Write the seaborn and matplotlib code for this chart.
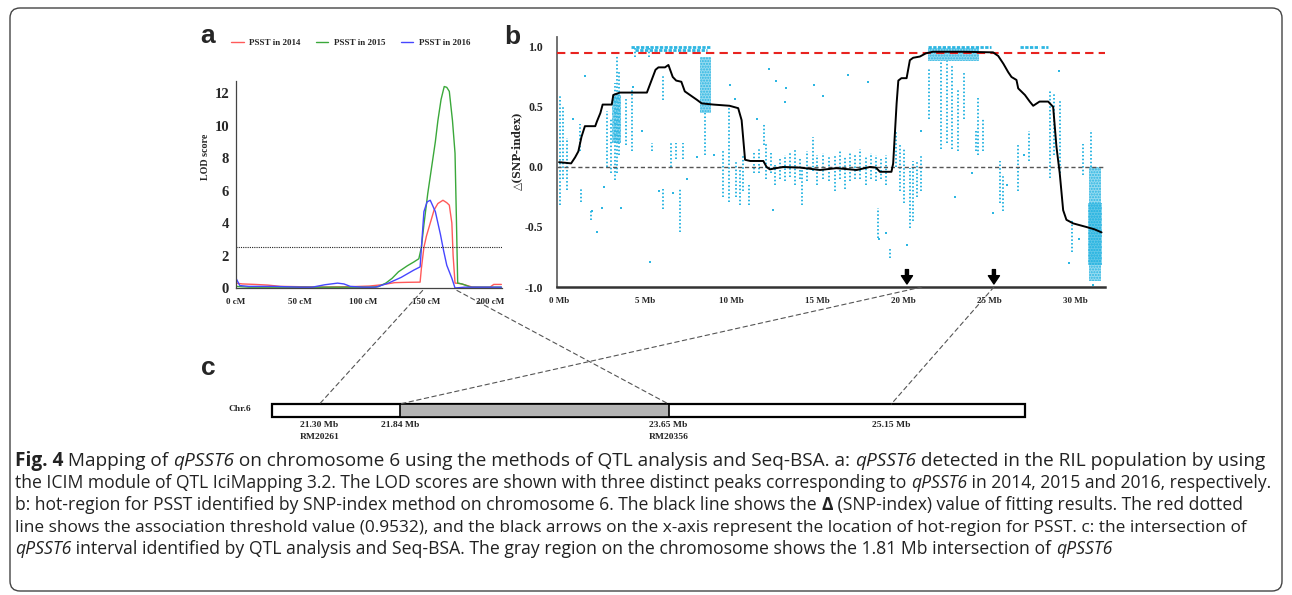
import matplotlib
matplotlib.use("Agg")
import matplotlib.pyplot as plt
import seaborn as sns
import numpy as np
import pandas as pd
from matplotlib.patches import ConnectionPatch, FancyBboxPatch
from matplotlib.transforms import IdentityTransform
from matplotlib.lines import Line2D

# ---------------- data: panel a (LOD curves) ----------------
cm_2014 = [0, 5, 15, 25, 35, 50, 70, 90, 105, 115, 125, 135, 145, 146, 148, 150, 153, 156, 159, 163,
           166, 168, 170, 171, 172.5, 176, 180, 186, 195, 200, 203, 209]
lod_2014 = [0.3, 0.25, 0.22, 0.18, 0.1, 0.08, 0.06, 0.08, 0.12, 0.2, 0.33, 0.35, 0.36, 1.2, 2.5, 3.2, 4.0, 4.8, 5.2, 5.4,
            5.25, 5.1, 4.0, 2.0, 0.3, 0.28, 0.2, 0.06, 0.05, 0.05, 0.22, 0.22]
cm_2015 = [0, 10, 30, 50, 70, 90, 105, 112, 118, 123, 128, 135, 140, 144, 146, 148, 151, 154, 157, 159,
           161.5, 164, 166, 168, 170.5, 172.5, 173.6, 174.6, 178, 185, 195, 209]
lod_2015 = [0.1, 0.05, 0.05, 0.05, 0.05, 0.05, 0.05, 0.08, 0.3, 0.6, 1.0, 1.37, 1.6, 1.8, 2.5, 3.9, 5.8, 7.4, 9.0, 10.3,
            11.6, 12.4, 12.35, 12.1, 10.3, 8.3, 4.2, 0.3, 0.25, 0.05, 0.05, 0.05]
cm_2016 = [0, 3, 10, 30, 50, 60, 70, 80, 85, 90, 100, 110, 120, 130, 140, 145, 146.5, 148, 150.5, 153,
           157, 161, 163.5, 166, 170, 172.5, 180, 200, 209]
lod_2016 = [0.6, 0.15, 0.1, 0.1, 0.05, 0.05, 0.2, 0.3, 0.25, 0.1, 0.05, 0.05, 0.3, 0.65, 1.1, 1.3, 3.0, 4.7, 5.3, 5.4,
            4.7, 3.3, 2.3, 1.4, 0.6, 0.0, 0.05, 0.05, 0.05]
lod_threshold = 2.5
series_names = ["PSST in 2014", "PSST in 2015", "PSST in 2016"]
series_colors = ["#ff5a5a", "#3aa83a", "#4646ff"]
cm_ticks = [0, 50, 100, 150, 200]
cm_tick_labels = ["0 cM", "50 cM", "100 cM", "150 cM", "200 cM"]
lod_ticks = [0, 2, 4, 6, 8, 10, 12]

# ---------------- data: panel b (delta SNP-index) ----------------
fit_mb = [0, 0.7, 0.93, 1.12, 1.3, 1.5, 2.1, 2.2, 2.4, 2.53, 3.06, 3.15, 3.54, 5.1, 5.6, 5.77, 6.15, 6.35, 6.6, 6.8,
          7.1, 7.3, 7.6, 8.0, 8.28, 8.96, 9.9, 10.4, 10.6, 10.8, 11.1, 11.86, 12.05, 12.24, 12.6, 13.0, 13.99, 15.15,
          16.1, 17.28, 18.05, 18.4, 18.63, 19.3, 19.4, 19.6, 19.7, 19.88, 20.18, 20.37, 20.56, 20.95, 21.3, 21.7,
          23.5, 25.2, 25.5, 25.8, 26.08, 26.27, 26.56, 26.66, 27.05, 27.33, 27.53, 27.9, 28.4, 28.69, 28.88, 29.07,
          29.27, 29.46, 29.85, 30.62, 31.1, 31.5]
fit_val = [0.04, 0.03, 0.08, 0.13, 0.25, 0.34, 0.34, 0.38, 0.45, 0.52, 0.52, 0.6, 0.62, 0.62, 0.81, 0.83, 0.83, 0.85,
           0.75, 0.72, 0.71, 0.63, 0.6, 0.56, 0.53, 0.52, 0.51, 0.49, 0.39, 0.06, 0.05, 0.05, 0.0, -0.02, -0.01, 0.0,
           -0.005, -0.025, -0.01, -0.025, 0.0, -0.005, -0.04, -0.04, 0.03, 0.53, 0.72, 0.74, 0.74, 0.89, 0.91, 0.92,
           0.947, 0.96, 0.96, 0.955, 0.925, 0.86, 0.79, 0.75, 0.725, 0.655, 0.6, 0.545, 0.51, 0.545, 0.545, 0.50,
           0.17, -0.05, -0.36, -0.44, -0.47, -0.50, -0.52, -0.545]
snp_threshold = 0.9532
# columns of SNP dots (position, lowest, highest)
streak_mb = [0.05, 0.2, 0.48, 1.2, 1.25, 1.86, 2.8, 3.0, 3.22, 3.35, 3.5, 3.9, 4.26, 4.4, 5.2, 5.4, 6.06, 6.06, 6.5,
             6.8, 7.0, 7.2, 8.5, 9.5, 9.85, 10.5, 11.0, 11.9, 12.54, 14.1, 14.76, 18.5, 19.2, 19.55, 20.4, 20.55,
             21.5, 22.2, 22.5, 22.8, 23.18, 23.5, 24.3, 24.2, 24.6, 25.6, 25.8, 26.66, 27.3, 28.5, 28.75, 29.1,
             30.4, 30.9, 29.8,
             10.3, 10.7, 11.3, 11.6, 12.0, 12.3, 12.8, 13.1, 13.4, 13.7, 14.0, 14.4, 15.0, 15.3, 15.7, 16.0, 16.3,
             16.6, 16.9, 17.2, 17.5, 17.8, 18.1, 18.4, 18.7, 19.0, 19.8, 20.0, 20.8, 21.0]
streak_lo = [-0.32, -0.10, -0.19, 0.13, -0.29, -0.44, 0.0, -0.05, -0.11, -0.05, 0.10, 0.18, 0.13, 0.92, 0.92, 0.13,
             0.56, -0.35, 0.0, 0.07, -0.54, 0.07, 0.10, -0.25, -0.29, -0.32, -0.32, 0.18, -0.15, -0.32, -0.03,
             -0.59, -0.76, 0.0, -0.51, -0.45, 0.40, 0.15, 0.20, 0.15, 0.13, 0.40, 0.10, 0.13, 0.13, -0.30, -0.37,
             -0.20, 0.05, -0.09, 0.10, -0.05, -0.07, 0.0, -0.71,
             -0.25, -0.2, -0.05, -0.05, -0.1, -0.05, -0.1, -0.12, -0.08, -0.15, -0.1, -0.12, -0.15, -0.1, -0.12,
             -0.2, -0.1, -0.18, -0.12, -0.1, -0.1, -0.15, -0.1, -0.12, -0.1, -0.15, -0.2, -0.3, -0.25, -0.2]
streak_hi = [0.60, 0.50, 0.24, 0.36, -0.18, -0.37, 0.47, 0.40, 0.70, 0.93, 0.80, 0.57, 0.65, 1.0, 1.0, 0.20,
             0.77, -0.18, 0.20, 0.20, -0.18, 0.20, 0.45, 0.15, 0.49, 0.0, -0.15, 0.36, 0.02, 0.0, 0.25,
             -0.34, -0.68, 0.30, -0.01, 0.05, 0.82, 0.88, 0.88, 0.85, 0.64, 0.80, 0.58, 0.30, 0.40, 0.05, -0.06,
             0.20, 0.30, 0.64, 0.62, 0.55, 0.19, 0.31, -0.44,
             0.05, 0.1, 0.13, 0.15, 0.2, 0.12, 0.08, 0.1, 0.12, 0.15, 0.08, 0.13, 0.1, 0.12, 0.08, 0.1, 0.13,
             0.08, 0.12, 0.1, 0.15, 0.08, 0.12, 0.1, 0.08, 0.1, 0.2, 0.15, 0.05, 0.1]
# dense clusters of SNP dots (start, end, lowest, highest)
blob_x0 = [3.10, 8.20, 30.70, 30.75, 21.40]
blob_x1 = [3.60, 8.85, 31.50, 31.45, 24.40]
blob_lo = [0.20, 0.45, -0.82, -0.95, 0.88]
blob_hi = [0.60, 0.92, -0.30, 0.00, 0.99]
# dotted rows of SNPs at the top (start, end, level)
band_x0 = [4.2, 4.4, 21.4, 26.75, 28.0]
band_x1 = [8.8, 8.6, 25.1, 27.85, 28.4]
band_y = [1.0, 0.975, 1.0, 1.0, 1.0]
# isolated SNP dots
iso_mb = [1.9, 2.2, 2.5, 3.6, 5.3, 4.3, 1.5, 0.8, 2.6, 4.8, 5.8, 6.6, 7.4, 9.9, 10.2, 12.2, 12.6, 13.2, 13.1, 14.8,
          15.3, 12.4, 11.5, 16.8, 17.95, 18.6, 19.0, 21.0, 24.0, 25.2, 26.0, 27.0, 29.0, 29.6, 30.2, 31.0, 23.0,
          20.2, 9.0, 8.0]
iso_val = [-0.37, -0.54, -0.34, -0.34, -0.79, 0.67, 0.76, 0.4, -0.17, 0.3, -0.2, -0.22, -0.1, 0.68, 0.57, 0.82,
           0.72, 0.66, 0.54, 0.68, 0.59, -0.36, 0.4, 0.77, 0.71, -0.6, -0.55, 0.3, -0.05, -0.38, -0.15, 0.1, 0.8,
           -0.8, -0.6, -0.98, -0.25, -0.65, 0.1, 0.08]
hot_arrows_mb = [20.2, 25.25]
mb_ticks = [0, 5, 10, 15, 20, 25, 30]
mb_tick_labels = ["0 Mb", "5 Mb", "10 Mb", "15 Mb", "20 Mb", "25 Mb", "30 Mb"]
snp_ticks = [1.0, 0.5, 0.0, -0.5, -1.0]
snp_tick_labels = ["1.0", "0.5", "0.0", "-0.5", "-1.0"]

# ---------------- data: panel c (chromosome) ----------------
chrom_start, chrom_end = 20.98, 26.05
overlap_start, overlap_end = 21.84, 23.65
mark_mb = [21.30, 21.84, 23.65, 25.15]
mark_labels = ["21.30 Mb", "21.84 Mb", "23.65 Mb", "25.15 Mb"]
marker_names = ["RM20261", "", "RM20356", ""]

# ---------------- caption (text segments: text, style) ----------------
caption_line1 = [("Fig. 4", "b"), (" Mapping of ", "n"), ("qPSST6", "i"),
                 (" on chromosome 6 using the methods of QTL analysis and Seq-BSA. a: ", "n"), ("qPSST6", "i"),
                 (" detected in the RIL population by using", "n")]
caption_line2 = [("the ICIM module of QTL IciMapping 3.2. The LOD scores are shown with three distinct peaks "
                  "corresponding to ", "n"), ("qPSST6", "i"), (" in 2014, 2015 and 2016, respectively.", "n")]
caption_line3 = [("b: hot-region for PSST identified by SNP-index method on chromosome 6. The black line shows the ",
                  "n"), ("Δ", "b"), (" (SNP-index) value of fitting results. The red dotted", "n")]
caption_line4 = [("line shows the association threshold value (0.9532), and the black arrows on the x-axis represent "
                  "the location of hot-region for PSST. c: the intersection of", "n")]
caption_line5 = [("qPSST6", "i"), (" interval identified by QTL analysis and Seq-BSA. The gray region on the "
                                   "chromosome shows the 1.81 Mb intersection of ", "n"), ("qPSST6", "i")]
caption_lines = [caption_line1, caption_line2, caption_line3, caption_line4, caption_line5]

# ---------------- styling ----------------
sns.set_style("white")
plt.rcParams["font.family"] = ["Liberation Serif", "DejaVu Serif"]

W, H = 1292, 595
fig = plt.figure(figsize=(W / 100, H / 100), dpi=100)
fig.patch.set_facecolor("white")


def fx(px):
    return px / W


def fy(py):
    return 1 - py / H


CYAN = "#2cb6e2"
SERIF = ["Liberation Serif", "DejaVu Serif"]

# ---------------- panel a ----------------
ax_a = fig.add_axes([fx(236), fy(288), (502 - 236) / W, (288 - 81) / H])
df_a = pd.concat([
    pd.DataFrame({"cM": cm_2014, "LOD": lod_2014, "series": series_names[0]}),
    pd.DataFrame({"cM": cm_2015, "LOD": lod_2015, "series": series_names[1]}),
    pd.DataFrame({"cM": cm_2016, "LOD": lod_2016, "series": series_names[2]}),
])
sns.lineplot(data=df_a, x="cM", y="LOD", hue="series", palette=dict(zip(series_names, series_colors)),
             estimator=None, sort=False, linewidth=1.0, ax=ax_a, legend=False)
ax_a.axhline(lod_threshold, color="#222222", lw=0.8, ls=(0, (1, 1)))
ax_a.set_xlim(0, 209.5)
ax_a.set_ylim(0, 12.74)
ax_a.set_xticks(cm_ticks)
ax_a.set_xticklabels(cm_tick_labels)
ax_a.set_yticks(lod_ticks)
ax_a.set_yticklabels([str(v) for v in lod_ticks])
ax_a.yaxis.set_minor_locator(matplotlib.ticker.MultipleLocator(0.5))
ax_a.xaxis.set_minor_locator(matplotlib.ticker.MultipleLocator(10))
ax_a.set_xlabel("")
ax_a.set_ylabel("LOD score", fontsize=7.2, fontweight="bold", family=SERIF, labelpad=3)
ax_a.yaxis.set_label_coords(-0.098, 0.633)
for s in ["top", "right"]:
    ax_a.spines[s].set_visible(False)
for s in ["left", "bottom"]:
    ax_a.spines[s].set_color("#444444")
    ax_a.spines[s].set_linewidth(0.9)
ax_a.tick_params(axis="both", which="both", direction="out", color="#444444", width=0.7)
ax_a.tick_params(axis="both", which="major", length=3)
ax_a.tick_params(axis="both", which="minor", length=1.5)
ax_a.tick_params(axis="x", labelsize=6.5, pad=4)
ax_a.tick_params(axis="y", labelsize=10.5, pad=2)
for lab in ax_a.get_xticklabels() + ax_a.get_yticklabels():
    lab.set_fontweight("bold")
handles = [Line2D([0], [0], color=c, lw=1.0) for c in series_colors]
leg = ax_a.legend(handles, series_names, ncol=3, loc="center left", frameon=False,
                  bbox_to_anchor=(fx(231), fy(43)), bbox_transform=fig.transFigure,
                  borderaxespad=0, borderpad=0, handlelength=1.4, handletextpad=0.6, columnspacing=1.7,
                  prop={"family": SERIF, "weight": "bold", "size": 6.5})

# ---------------- panel b ----------------
ax_b = fig.add_axes([fx(557), fy(287), (1105 - 557) / W, (287 - 37) / H])
ax_b.vlines(streak_mb, streak_lo, streak_hi, colors=CYAN, linewidth=1.4, linestyles=(0, (0.8, 1.1)), zorder=1)
bx = [(a + b) / 2 for a, b in zip(blob_x0, blob_x1)]
bw = [b - a for a, b in zip(blob_x0, blob_x1)]
bh = [h - l for l, h in zip(blob_lo, blob_hi)]
ax_b.bar(bx, bh, bottom=blob_lo, width=bw, color=CYAN, alpha=0.5, linewidth=0, zorder=1)
ax_b.bar(bx, bh, bottom=blob_lo, width=bw, facecolor="none", edgecolor=CYAN, hatch="......",
         linewidth=0, zorder=1)
ax_b.hlines(band_y, band_x0, band_x1, colors=CYAN, linewidth=2.0, linestyles=(0, (1.2, 0.5)), zorder=1)
sns.scatterplot(x=iso_mb, y=iso_val, color=CYAN, s=4, marker="s", linewidth=0, ax=ax_b, zorder=1)
ax_b.axhline(0, color="#555555", lw=1.0, ls=(0, (3, 2)), zorder=2)
ax_b.axhline(snp_threshold, color="#e8231f", lw=1.5, ls=(0, (4, 2.5)), zorder=3)
sns.lineplot(x=fit_mb, y=fit_val, color="black", linewidth=1.4, estimator=None, sort=False, ax=ax_b, zorder=4)
for xm in hot_arrows_mb:
    ax_b.annotate("", xy=(xm, -0.975), xytext=(xm, -0.855),
                  arrowprops=dict(facecolor="black", edgecolor="black", width=2.2, headwidth=8, headlength=6,
                                  shrink=0),
                  annotation_clip=False, zorder=6)
ax_b.set_xlim(-0.12, 31.7)
ax_b.set_ylim(-1.0, 1.083)
ax_b.set_xticks(mb_ticks)
ax_b.set_xticklabels(mb_tick_labels)
ax_b.set_yticks(snp_ticks)
ax_b.set_yticklabels(snp_tick_labels)
ax_b.set_ylabel("△(SNP-index)", fontsize=7.6, fontweight="bold", family=["DejaVu Serif"])
ax_b.yaxis.set_label_coords(-0.064, 0.544)
for s in ["top", "right"]:
    ax_b.spines[s].set_visible(False)
ax_b.spines["left"].set_color("#666666")
ax_b.spines["left"].set_linewidth(1.3)
ax_b.spines["bottom"].set_color("#333333")
ax_b.spines["bottom"].set_linewidth(1.8)
ax_b.tick_params(axis="both", direction="out", length=3, width=0.8, color="#444444")
ax_b.tick_params(axis="x", labelsize=6.5, pad=4)
ax_b.tick_params(axis="y", labelsize=8.5, pad=7)
for lab in ax_b.get_xticklabels() + ax_b.get_yticklabels():
    lab.set_fontweight("bold")

# ---------------- panel c ----------------
ax_c = fig.add_axes([fx(272), fy(450), (1025 - 272) / W, 60 / H])
bar_c, bar_h = 0.658, 0.217
ax_c.barh([bar_c], [chrom_end - chrom_start], left=[chrom_start], height=bar_h, color="white",
          edgecolor="black", linewidth=1.6, clip_on=False)
ax_c.barh([bar_c], [overlap_end - overlap_start], left=[overlap_start], height=bar_h, color="#b4b4b4",
          edgecolor="black", linewidth=1.2, clip_on=False)
ax_c.set_xlim(chrom_start, chrom_end)
ax_c.set_ylim(0, 1)
ax_c.axis("off")
for pos, lab, name in zip(mark_mb, mark_labels, marker_names):
    ax_c.text(pos, 0.417, lab, ha="center", va="center", fontsize=6.8, fontweight="bold", family=SERIF)
    if name:
        ax_c.text(pos, 0.217, name, ha="center", va="center", fontsize=6.8, fontweight="bold", family=SERIF)
fig.text(fx(240), fy(409), "Chr.6", ha="center", va="center", fontsize=6.8, fontweight="bold", family=SERIF)

# connectors
bar_top = bar_c + bar_h / 2
conn_style = dict(color="#555555", lw=0.8, ls=(0, (4, 3)))
for xa, xb in [(147, mark_mb[0]), (174, mark_mb[2])]:
    fig.add_artist(ConnectionPatch(xyA=(xa, -0.15), coordsA=ax_a.transData, xyB=(xb, bar_top),
                                   coordsB=ax_c.transData, **conn_style))
for xa, xb in [(21.07, mark_mb[1]), (25.25, mark_mb[3])]:
    fig.add_artist(ConnectionPatch(xyA=(xa, -1.0), coordsA=ax_b.transData, xyB=(xb, bar_top),
                                   coordsB=ax_c.transData, **conn_style))

# panel letters
for lbl, px, py in [("a", 208, 36), ("b", 512, 37), ("c", 208, 368)]:
    fig.text(fx(px), fy(py), lbl, ha="center", va="center", fontsize=19, fontweight="bold",
             family=["Liberation Sans", "DejaVu Sans"])

# ---------------- caption (rich text laid out segment by segment) ----------------
cap_family = ["Open Sans", "DejaVu Sans"]
cap_style = {"n": dict(), "i": dict(fontstyle="italic"), "b": dict(fontweight="bold")}
baselines = [466, 488, 510, 531.5, 554]
line_ends = [1267, 1273, 1247, 1248, 1110]
x_start = 15
fig.canvas.draw()
renderer = fig.canvas.get_renderer()


def seg_width(s, size, style):
    kw = dict(fontsize=size, family=cap_family, **cap_style[style])
    t1 = fig.text(0, 0, "|" + s + "|", **kw)
    t2 = fig.text(0, 0, "||", **kw)
    w = t1.get_window_extent(renderer).width - t2.get_window_extent(renderer).width
    t1.remove()
    t2.remove()
    return w


base = 11.0
for segs, yb, xe in zip(caption_lines, baselines, line_ends):
    total = sum(seg_width(s, base, st) for s, st in segs)
    size = base * (xe - x_start) / total
    x = x_start
    for s, st in segs:
        fig.text(fx(x), fy(yb), s, ha="left", va="baseline", fontsize=size, family=cap_family,
                 color="#222222", **cap_style[st])
        x += seg_width(s, size, st)

# rounded frame
frame = FancyBboxPatch((10, H - 591), W - 20, 583, boxstyle="round,pad=0,rounding_size=10",
                       transform=IdentityTransform(), facecolor="none", edgecolor="#444444", linewidth=1.0)
fig.patches.append(frame)

fig.savefig("out.png", dpi=100, facecolor="white")
